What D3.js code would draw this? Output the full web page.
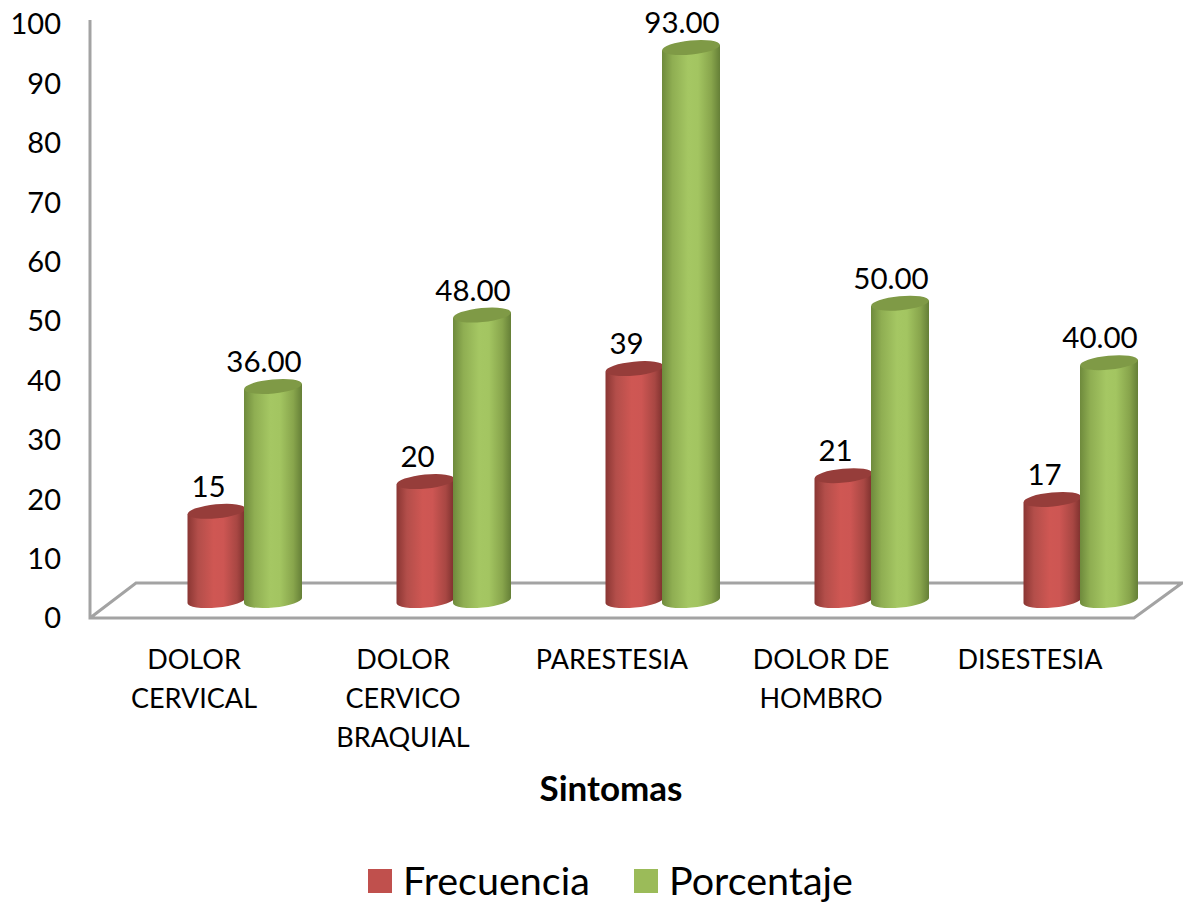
<!DOCTYPE html>
<html><head><meta charset="utf-8">
<script src="https://cdn.jsdelivr.net/npm/d3@7/dist/d3.min.js"></script>
<style>html,body{margin:0;background:#fff}svg{display:block}text{font-family:Lato,"Open Sans",sans-serif;fill:#000}</style>
</head><body><svg id="c" width="1183" height="903"></svg>
<script>
const categories=[["DOLOR","CERVICAL"],["DOLOR","CERVICO","BRAQUIAL"],["PARESTESIA"],["DOLOR DE","HOMBRO"],["DISESTESIA"]];
const frecuencia=[15,20,39,21,17];
const porcentaje=[36,48,93,50,40];
const yTicks=[0,10,20,30,40,50,60,70,80,90,100];
const seriesNames=["Frecuencia","Porcentaje"];
const svg=d3.select("#c"),defs=svg.append("defs");
const axisY=d3.scaleLinear().domain([0,100]).range([618,24]);
const barY=d3.scaleLinear().domain([0,93]).range([600.5,47.5]);
const catX=d3.scalePoint().domain(d3.range(5)).range([245,1081]);
const W=58,RX=W/2,RY=7,TILT=-5.5;
const pals=[
 {id:"r",stops:["#8a3633","#b34e4a","#cf5753","#cd5653","#a84743","#7a2f2c"],top:"#963d3a",sw:"#c0504d",off:-28.5,fmt:d=>d3.format("d")(d),lx:-8},
 {id:"g",stops:["#6e8a3c","#8fae52","#a5c763","#a3c561","#88a54c","#657f37"],top:"#7f9a46",sw:"#9bbb59",off:28,fmt:d=>d3.format(".2f")(d),lx:-9}];
pals.forEach(p=>{const g=defs.append("linearGradient").attr("id",p.id);
 [0,.18,.45,.62,.85,1].forEach((o,i)=>g.append("stop").attr("offset",o).attr("stop-color",p.stops[i]));});
const floor=svg.append("g").attr("fill","none").attr("stroke","#a3a3a3").attr("stroke-width",3);
floor.append("path").attr("d",d3.line()([[90,20],[90,618],[1134,618],[1182,583],[136,583],[90,618]]));
const ax=svg.append("g").attr("transform","translate(61,0)").call(d3.axisLeft(axisY).tickValues(yTicks).tickSize(0).tickPadding(0));
ax.select(".domain").remove();
ax.selectAll("text").style("font-size","29px").attr("dy",".34em");
[frecuencia,porcentaje].forEach((vals,s)=>{
 const p=pals[s];
 const g=svg.append("g");
 vals.forEach((v,i)=>{
  const cx=catX(i)+p.off,yb=barY(0),yt=barY(v),t=Math.tan(TILT*Math.PI/180)*RX;
  g.append("path").attr("fill",`url(#${p.id})`)
   .attr("d",`M${cx-RX},${yt-t}L${cx+RX},${yt+t}L${cx+RX},${yb+t}A${RX},${RY} ${TILT} 0 1 ${cx-RX},${yb-t}Z`);
  g.append("ellipse").attr("cx",cx).attr("cy",yt).attr("rx",RX).attr("ry",RY)
   .attr("transform",`rotate(${TILT} ${cx} ${yt})`).attr("fill",p.top);
  svg.append("text").attr("x",cx+p.lx).attr("y",yt-26).attr("text-anchor","middle")
   .attr("dominant-baseline","central").style("font-size","29.5px").text(p.fmt(v));
 });
});
categories.forEach((lines,i)=>{
 lines.forEach((l,j)=>svg.append("text").attr("x",catX(i)-51).attr("y",658+j*39).attr("text-anchor","middle")
  .attr("dominant-baseline","central").style("font-size","27px").text(l));
});
svg.append("text").attr("x",611).attr("y",787).attr("text-anchor","middle").attr("dominant-baseline","central")
 .style("font-size","35px").style("font-weight","700").text("Sintomas");
const lg=[{x:368,tx:403},{x:634,tx:669}];
seriesNames.forEach((n,i)=>{
 svg.append("rect").attr("x",lg[i].x).attr("y",869).attr("width",24).attr("height",24).attr("fill",pals[i].sw);
 svg.append("text").attr("x",lg[i].tx).attr("y",879).attr("dominant-baseline","central").style("font-size","39.5px").text(n);
});
</script></body></html>
